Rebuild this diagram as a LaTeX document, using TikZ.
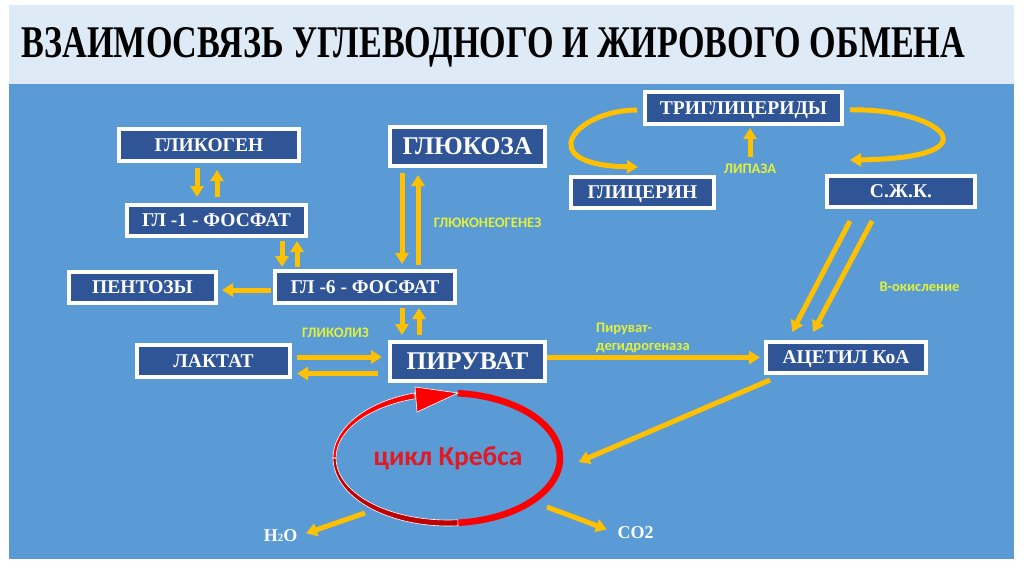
\documentclass[tikz,border=0pt]{standalone}
\usepackage{fontspec}
\setmainfont{Liberation Serif}
\newfontfamily\labelfont{Carlito}
\usepackage{graphicx}
\usetikzlibrary{arrows.meta,shapes.geometric}
\definecolor{slideblue}{RGB}{91,155,213}
\definecolor{titleband}{RGB}{222,235,247}
\definecolor{boxblue}{RGB}{47,85,151}
\definecolor{arrowgold}{RGB}{255,192,0}
\definecolor{labelyellow}{RGB}{225,240,60}
\definecolor{krebsred}{RGB}{255,0,0}
\definecolor{krebsdark}{RGB}{192,0,0}
\definecolor{krebstext}{RGB}{225,25,35}
\begin{document}
\begin{tikzpicture}[x=1pt,y=1pt,
  substance/.style={shape=rectangle, fill=boxblue, draw=white, line width=4pt, text=white, inner sep=0pt, text depth=0pt, font=\bfseries\fontsize{19.5}{19.5}\selectfont},
  bigsubstance/.style={substance, font=\bfseries\fontsize{25.5}{25.5}\selectfont},
  enzyme/.style={text=labelyellow, inner sep=2pt, font=\labelfont\bfseries\fontsize{14.5}{18}\selectfont},
  product/.style={text=white, inner sep=1pt, font=\bfseries\fontsize{18}{18}\selectfont},
  flow/.style={draw=arrowgold, line width=5pt, -{Triangle[width=13pt,length=11pt]}}]
%%%%%%%%%%%%%%%%%%%%%%%%%%%%%%%%%%%%%%%%%%% HELP LINES
%\draw[help lines] (0,0) grid[step=50] +(1024,574);
\useasboundingbox (0,0) rectangle (1024,574);

%%%%%%%%%%%%%%%%%%%%%%%%%%%%%%%%%%%%%%%%%%% background
\fill[titleband] (9,490) rectangle (1014,569);
\fill[slideblue] (9,15) rectangle (1014,490);
\node(title)at(493.5,527){\resizebox{943pt}{30pt}{\bfseries ВЗАИМОСВЯЗЬ УГЛЕВОДНОГО И ЖИРОВОГО ОБМЕНА}};

%%%%%%%%%%%%%%%%%%%%%%%%%%%%%%%%%%%%%%%%%%% carbohydrates
\node[substance, minimum width=180pt, minimum height=32pt](glycogen)at(209,429){ГЛИКОГЕН};
\node[bigsubstance, minimum width=155pt, minimum height=39pt](glucose)at(467.5,427.5){ГЛЮКОЗА};
\node[substance, minimum width=179pt, minimum height=31pt](g1p)at(216.5,353.5){ГЛ -1 - ФОСФАТ};
\node[substance, minimum width=147pt, minimum height=31pt](pentose)at(142.5,286.5){ПЕНТОЗЫ};
\node[substance, minimum width=180pt, minimum height=32pt](g6p)at(365,287){ГЛ -6 - ФОСФАТ};
\node[substance, minimum width=153pt, minimum height=32pt](lactate)at(213.5,213){ЛАКТАТ};
\node[bigsubstance, minimum width=155pt, minimum height=39pt](pyruvate)at(467.5,212.5){ПИРУВАТ};

%%%%%%%%%%%%%%%%%%%%%%%%%%%%%%%%%%%%%%%%%%% fats
\node[substance, minimum width=197pt, minimum height=32pt](trig)at(743.5,466){ТРИГЛИЦЕРИДЫ};
\node[substance, minimum width=143pt, minimum height=31pt](glycerol)at(642.5,381.5){ГЛИЦЕРИН};
\node[substance, minimum width=148pt, minimum height=31pt](ffa)at(901,382.5){С.Ж.К.};
\node[substance, minimum width=160pt, minimum height=31pt](acetyl)at(846,216.5){АЦЕТИЛ КоА};

%%%%% enzymes and pathways
\node[enzyme](gluconeo)at(487.5,351){ГЛЮКОНЕОГЕНЕЗ};
\node[enzyme](glycolysis)at(335.5,241){ГЛИКОЛИЗ};
\node[enzyme](lipase)at(750,405){ЛИПАЗА};
\node[enzyme](betaox)at(919.5,287){В-окисление};
\node[enzyme, anchor=west, align=left](pdh)at(594,236){Пируват-\\дегидрогеназа};

%%%%% products
\node[product](h2o)at(280.5,38){H\raisebox{0pt}{\fontsize{11}{11}\selectfont 2}O};
\node[product](co2)at(635.5,41){CO2};

%%%%%%%%%%%%%%%%%%%%%%%%%%%%%%%%%%%%%%%%%%% krebs cycle
\node[shape=ellipse, minimum width=231pt, minimum height=137pt, inner sep=0pt, text=krebstext, font=\labelfont\bfseries\fontsize{27.5}{27.5}\selectfont](krebs)at(448,116){цикл Кребса};
\draw[krebsred, line width=6.5pt] ([shift={(85:112 and 65)}]krebs.center) arc[start angle=85, end angle=-85, x radius=112, y radius=65];
\fill[krebsdark, draw=white, line width=0.6pt] ([shift={(275:115 and 68)}]krebs.center) arc[start angle=275, end angle=180, x radius=115, y radius=68]
  -- ([shift={(180:112 and 62)}]krebs.center) arc[start angle=180, end angle=275, x radius=112, y radius=62] -- cycle;
\fill[krebsred, draw=white, line width=0.6pt] ([shift={(180:115 and 68)}]krebs.center) arc[start angle=180, end angle=107, x radius=115, y radius=68]
  -- ([shift={(107:112 and 62)}]krebs.center) arc[start angle=107, end angle=180, x radius=112, y radius=62] -- cycle;
\fill[krebsred, draw=white, line width=0.6pt] ([shift={(-33,71)}]krebs.center) -- ([shift={(10,65)}]krebs.center) -- ([shift={(-31,46)}]krebs.center) -- cycle;

%%%%%%%%%%%%%%%%%%%%%%%%%%%%%%%%%%%%%%%%%%% arrows
\draw[flow, shorten <=5pt, shorten >=6pt] ([xshift=-12pt]glycogen.south) -- ([xshift=-12pt]glycogen.south |- g1p.north);
\draw[flow, shorten <=6pt, shorten >=7pt] ([xshift=8pt]glycogen.south |- g1p.north) -- ([xshift=8pt]glycogen.south);
\draw[flow, shorten <=3pt, shorten >=2pt] ([xshift=-83pt]g6p.north |- g1p.south) -- ([xshift=-83pt]g6p.north);
\draw[flow, shorten <=2pt, shorten >=3pt] ([xshift=-68pt]g6p.north) -- ([xshift=-68pt]g6p.north |- g1p.south);
\draw[flow, shorten <=5pt, shorten >=5pt] ([xshift=37pt]g6p.north |- glucose.south) -- ([xshift=37pt]g6p.north);
\draw[flow, shorten <=4pt, shorten >=7pt] ([xshift=53pt]g6p.north) -- ([xshift=53pt]g6p.north |- glucose.south);
\draw[flow, shorten <=3pt, shorten >=5pt] ([xshift=37pt]g6p.south) -- ([xshift=37pt]g6p.south |- pyruvate.north);
\draw[flow, shorten <=5pt, shorten >=3pt] ([xshift=54pt]g6p.south |- pyruvate.north) -- ([xshift=54pt]g6p.south);
\draw[flow, shorten <=2pt, shorten >=4pt] ([yshift=-3pt]g6p.west) -- ([yshift=-3pt]g6p.west -| pentose.east);
\draw[flow, shorten <=5pt, shorten >=6pt] ([yshift=4pt]lactate.east) -- ([yshift=4pt]lactate.east -| pyruvate.west);
\draw[flow, shorten <=10pt, shorten >=5pt] ([yshift=-12pt]pyruvate.west) -- ([yshift=-12pt]pyruvate.west -| lactate.east);
\draw[flow, shorten >=4pt] (pyruvate.east |- acetyl.west) -- (acetyl.west);

%%%%% lipolysis
\draw[flow, shorten >=2pt] ([yshift=5pt]lipase.north) -- (lipase.north |- trig.south);
\draw[flow, shorten <=6pt] ([yshift=-2pt]trig.west) .. controls +(-68,0) and +(-108,2) .. ([xshift=-4.5pt,yshift=8pt]glycerol.north);
\draw[flow, shorten <=6pt] ([yshift=-2pt]trig.east) .. controls +(96,2) and +(150,2) .. ([xshift=-51pt,yshift=14pt]ffa.north);
\draw[flow] ([xshift=-51pt,yshift=-12pt]ffa.south) -- ([xshift=-54pt,yshift=8pt]acetyl.north);
\draw[flow] ([xshift=-29pt,yshift=-12pt]ffa.south) -- ([xshift=-33pt,yshift=8pt]acetyl.north);

%%%%% into and out of the cycle
\draw[flow] ([xshift=-76pt,yshift=-5pt]acetyl.south) -- ([xshift=15pt,yshift=-4pt]krebs.east);
\draw[flow, shorten >=8pt] ([shift={(-83,-55)}]krebs.center) -- (h2o.east);
\draw[flow, shorten >=10pt] ([shift={(99,-49)}]krebs.center) -- (co2.west);
\end{tikzpicture}
\end{document}
